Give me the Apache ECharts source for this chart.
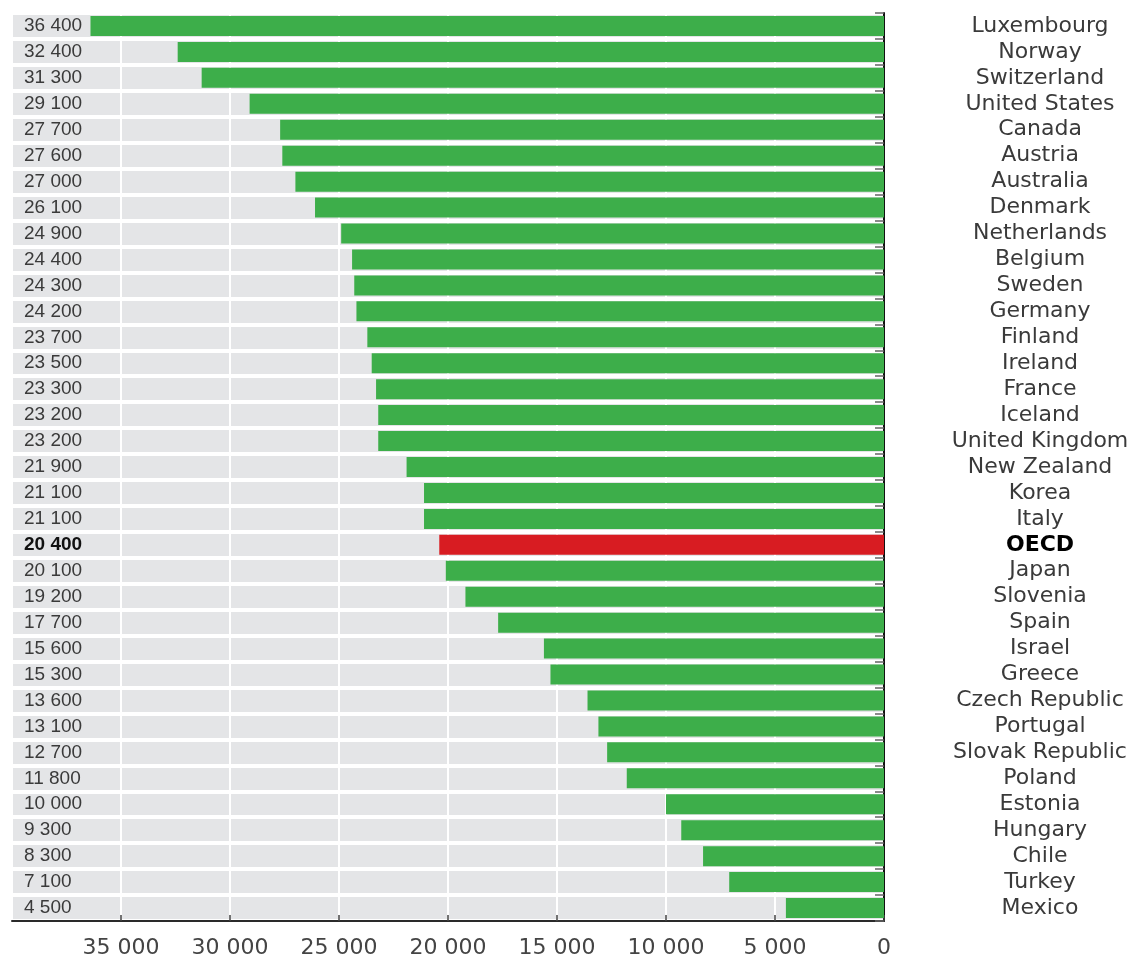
<!DOCTYPE html>
<html>
<head>
<meta charset="utf-8">
<script src="https://cdn.jsdelivr.net/npm/echarts@6/dist/echarts.min.js"></script>
<style>html,body{margin:0;padding:0;background:#fff}#c{width:1139px;height:959px}</style>
</head>
<body>
<div id="c"></div>
<script>
const countries = ['Luxembourg','Norway','Switzerland','United States','Canada','Austria','Australia','Denmark','Netherlands','Belgium','Sweden','Germany','Finland','Ireland','France','Iceland','United Kingdom','New Zealand','Korea','Italy','OECD','Japan','Slovenia','Spain','Israel','Greece','Czech Republic','Portugal','Slovak Republic','Poland','Estonia','Hungary','Chile','Turkey','Mexico'];
const values = [36400,32400,31300,29100,27700,27600,27000,26100,24900,24400,24300,24200,23700,23500,23300,23200,23200,21900,21100,21100,20400,20100,19200,17700,15600,15300,13600,13100,12700,11800,10000,9300,8300,7100,4500];
const highlight = 'OECD';
const xTicks = [0,5000,10000,15000,20000,25000,30000,35000,40000];

const fmt = v => String(v).replace(/\B(?=(\d{3})+(?!\d))/g, ' ');
const GREEN = '#3dae4a', RED = '#d81c22';

const chart = echarts.init(document.getElementById('c'));
chart.setOption({
  animation: false,
  backgroundColor: '#ffffff',
  grid: { left: 12, right: 255, top: 13, bottom: 38, show: true, backgroundColor: '#e4e5e7', borderWidth: 0 },
  xAxis: {
    type: 'value', inverse: true, min: xTicks[0], max: xTicks[xTicks.length-1], interval: 5000,
    axisLine: { show: true, lineStyle: { color: '#2a2a2a', width: 2 } },
    axisTick: { show: true, inside: true, length: 6, lineStyle: { color: '#444', width: 1.5 } },
    splitLine: { show: true, lineStyle: { color: '#ffffff', width: 2 } },
    axisLabel: { showMaxLabel: false, formatter: v => fmt(v), fontFamily: 'DejaVu Sans', fontSize: 22, color: '#444', margin: 16 }
  },
  yAxis: [
    {
      type: 'category', inverse: true, position: 'left',
      data: countries.map((c,i) => c === highlight ? { value: fmt(values[i]), textStyle: { fontWeight: 'bold', color: '#111', align: 'left' } } : fmt(values[i])),
      axisLine: { show: false }, axisTick: { show: false }, splitLine: { show: false },
      axisLabel: { interval: 0, hideOverlap: false, inside: true, margin: 12, align: 'left', fontFamily: 'Liberation Sans', fontSize: 19, color: '#3a3a3a' }
    },
    {
      type: 'category', inverse: true, position: 'right',
      data: countries.map(c => c === highlight ? { value: c, textStyle: { fontWeight: 'bold', color: '#000', align: 'center' } } : c),
      axisLine: { show: true, lineStyle: { color: '#111', width: 2 } },
      axisTick: { show: true, interval: 0, inside: true, length: 9, lineStyle: { color: '#666', width: 1.5 } },
      splitLine: { show: true, interval: 0, lineStyle: { color: '#ffffff', width: 4 } },
      axisLabel: { interval: 0, hideOverlap: false, margin: 156, align: 'center', fontFamily: 'DejaVu Sans', fontSize: 22, color: '#3a3a3a' }
    }
  ],
  series: [{
    type: 'bar', yAxisIndex: 0, barWidth: 20,
    data: values.map((v,i) => ({ value: v, itemStyle: { color: countries[i] === highlight ? RED : GREEN } }))
  }]
});
</script>
</body>
</html>
